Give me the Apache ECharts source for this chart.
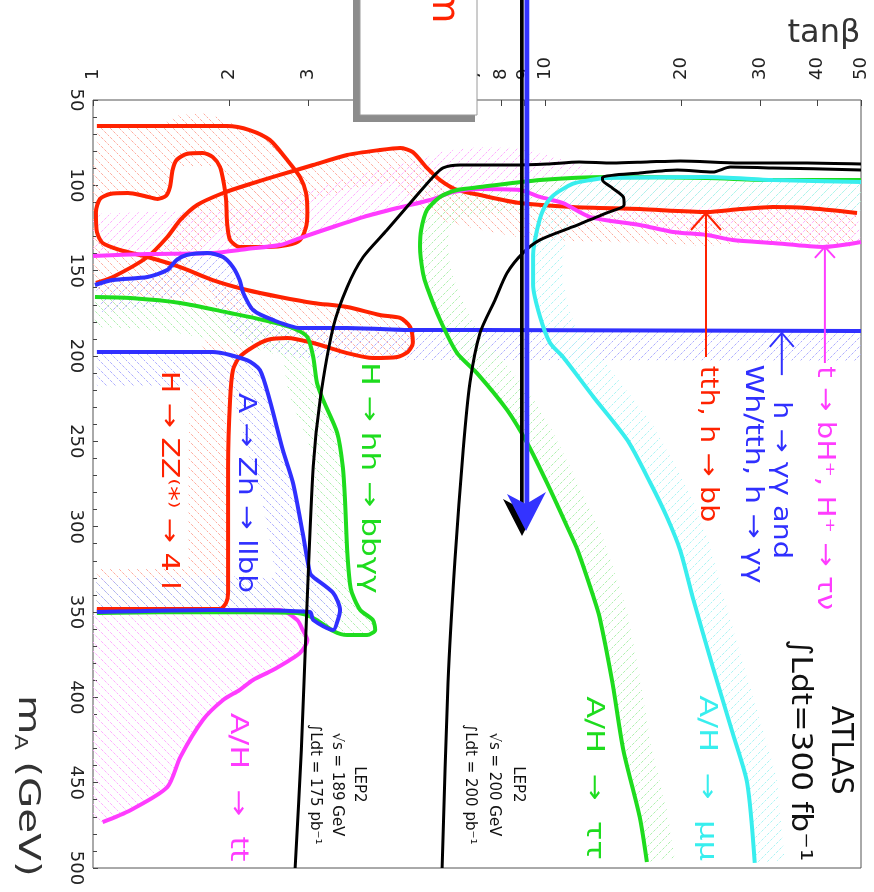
<!DOCTYPE html>
<html>
<head>
<meta charset="utf-8">
<title>ATLAS tanβ – mA</title>
<script src="https://cdn.jsdelivr.net/npm/echarts@6.0.0/dist/echarts.min.js"></script>
<style>
  html, body { margin: 0; padding: 0; background: #fff; }
  #chart { width: 874px; height: 892px; }
</style>
</head>
<body>
<div id="chart"></div>
<script>
// top axis ticks (tanβ, log scale)
const tanbTicks = [1, 2, 3, 4, 5, 6, 7, 8, 9, 10, 20, 30, 40, 50];

// contours, points are [tanβ, mA in GeV]
const redZZ = [[1.02,65.2],[1.41,65.2],[1.98,65.2],[2.22,67.6],[2.46,73.4],[2.69,85.2],[2.87,95.1],[2.96,104.5],[2.98,116.2],[2.96,124.4],[2.87,132.0],[2.69,135.0],[2.43,136.1],[2.11,136.1],[2.01,132.0],[1.98,122.1],[1.97,108.6],[1.95,99.8],[1.91,89.3],[1.84,83.4],[1.75,81.1],[1.61,81.6],[1.53,85.2],[1.50,91.0],[1.48,101.0],[1.45,106.2],[1.39,108.0],[1.30,106.2],[1.195,104.5],[1.09,105.1],[1.036,108.0],[1.015,115.6],[1.02,127.3],[1.05,133.8],[1.147,137.9],[1.32,142.0],[1.56,147.9],[1.84,155.5],[2.19,161.3],[2.59,165.4],[3.07,168.9],[3.65,171.3],[4.31,176.0],[4.78,177.7],[5.03,183.0],[5.10,192.4],[4.97,197.7],[4.71,200.6],[4.16,201.2],[3.65,198.3],[3.07,192.4],[2.69,189.5],[2.43,190.6],[2.26,194.7],[2.11,200.6],[2.04,208.2],[2.01,225.8],[1.99,265.0],[1.99,303.7],[1.99,338.9],[1.97,344.7],[1.91,348.2],[1.34,348.2],[1.02,348.2]];
const redTth = [[1.015,157.2],[1.107,153.7],[1.32,142.0],[1.46,130.3],[1.56,120.3],[1.70,111.5],[1.94,104.5],[2.19,99.8],[2.59,93.9],[3.07,88.1],[3.65,82.2],[4.31,79.3],[4.78,78.1],[5.10,80.5],[5.48,89.8],[5.86,96.9],[6.39,102.7],[7.18,105.7],[8.80,110.4],[11.5,112.7],[16.2,113.9],[22.8,115.6],[27.0,113.9],[31.9,112.7],[38.0,113.3],[49.0,116.2]];
const magBH = [[1.0,141.4],[1.32,140.2],[1.84,139.6],[2.19,137.3],[2.59,135.0],[2.87,130.9],[3.34,125.0],[3.96,118.6],[4.71,113.3],[5.57,108.6],[6.26,103.9],[7.18,102.1],[8.80,102.7],[9.75,106.8],[10.96,110.4],[12.6,118.6],[16.2,123.2],[19.2,127.3],[22.8,129.1],[26.0,132.0],[31.9,133.8],[41.2,136.1],[50,133.2]];
const magTt = [[1.02,348.8],[2.59,348.8],[2.83,354.7],[2.91,360.5],[2.98,366.4],[2.87,374.0],[2.50,384.0],[2.26,389.8],[2.11,395.7],[1.94,401.6],[1.75,413.3],[1.56,435.0],[1.46,452.6],[1.21,466.1],[1.05,473.1]];
const greenHH = [[1.01,165.4],[1.21,166.0],[1.56,168.9],[2.01,174.8],[2.38,178.9],[2.77,183.6],[2.98,188.9],[3.07,200.6],[3.13,215.8],[3.23,225.8],[3.47,245.1],[3.57,265.0],[3.61,284.4],[3.65,313.7],[3.70,333.0],[3.74,338.9],[3.90,348.8],[4.16,354.7],[4.21,360.5],[4.04,363.5],[3.65,363.5],[3.40,361.1],[3.07,353.5],[2.83,350.6],[1.84,350.0],[1.02,350.6]];
const greenTT = [[50,96.9],[31.9,96.9],[22.8,95.7],[13.7,95.1],[9.75,96.9],[7.18,101.0],[6.39,102.7],[5.86,106.8],[5.48,114.5],[5.32,126.2],[5.29,136.1],[5.37,151.4],[5.48,159.6],[5.86,178.9],[6.39,198.3],[7.07,210.0],[8.24,231.6],[9.13,251.0],[10.1,274.4],[11.2,300.2],[11.8,313.7],[12.8,341.2],[13.2,352.9],[14.1,391.6],[14.9,430.9],[16.2,470.2],[16.8,496.5]];
const cyanMM = [[50,98.0],[31.9,96.9],[22.8,95.1],[13.7,95.7],[12.6,96.9],[11.5,99.2],[10.4,106.2],[9.90,114.5],[9.60,126.2],[9.41,140.8],[9.41,158.4],[9.75,177.1],[10.26,192.4],[10.96,200.6],[12.8,224.0],[15.2,249.2],[17.1,274.4],[18.6,294.3],[19.9,313.7],[21.3,343.0],[23.5,382.2],[26.0,420.9],[28.0,450.2],[29.1,497.0]];
const blueZh = [[1.02,197.7],[1.84,197.7],[2.19,202.4],[2.34,208.2],[2.46,225.8],[2.63,255.1],[2.77,274.4],[2.91,303.7],[3.02,327.2],[3.07,329.5],[3.40,338.9],[3.52,348.8],[3.48,354.7],[3.40,360.5],[3.07,354.7],[3.02,350.0],[1.84,348.8],[1.02,350.0]];
const blueGG = [[1.01,158.4],[1.107,155.5],[1.32,153.7],[1.46,149.6],[1.53,143.8],[1.61,140.8],[1.79,139.6],[1.94,142.0],[2.04,147.9],[2.11,155.5],[2.15,163.1],[2.26,173.1],[2.50,178.9],[2.87,183.6],[3.65,183.6],[5.10,184.8],[7.18,184.8],[50,185.4]];
const lep189 = [[2.80,500],[2.89,430.9],[2.97,350.0],[3.07,265.0],[3.18,225.8],[3.40,183.0],[3.65,159.6],[3.96,142.0],[4.47,126.2],[5.10,108.6],[5.65,95.1],[5.95,89.8],[6.49,88.1],[7.18,88.1],[8.50,88.1],[10.1,87.5],[11.9,86.3],[14.1,86.9],[16.8,86.3],[19.9,85.7],[27.0,86.9],[38.0,86.9],[50,87.5]];
const lep200 = [[5.92,500],[6.10,391.6],[6.32,319.5],[6.59,255.1],[6.82,215.8],[7.18,186.5],[7.75,167.2],[8.24,151.4],[8.94,139.6],[9.75,132.0],[11.5,124.4],[13.7,116.2],[14.96,111.5],[14.9,106.8],[14.1,101.6],[13.4,96.9],[13.4,95.2],[16.2,92.8],[19.6,91.0],[23.5,92.2],[25.7,89.3],[31.9,89.8],[50,91.0]];

// annotation arrows, [tanβ, mA] from tail to tip
const tthArrow = [[22.7, 200.6], [22.7, 116.2]];
const bHArrow = [[41.6, 204.1], [41.6, 136.1]];
const ggArrow = [[33.4, 211.2], [33.4, 186.5]];

const RED = '#ff2200', MAG = '#ff3cff', GRN = '#1edc1e', BLU = '#3030ff', CYN = '#38eeee', INK = '#111';

// sparse diagonal hatch for the excluded sides of the contours
function hatch(color, dir) {
  const s = 9;
  const c = document.createElement('canvas');
  c.width = s; c.height = s;
  const g = c.getContext('2d');
  g.strokeStyle = color;
  g.lineWidth = 1;
  g.setLineDash([3, 1.5]);
  g.beginPath();
  if (dir > 0) {
    g.moveTo(-1, s + 1); g.lineTo(s + 1, -1);
  } else {
    g.moveTo(-1, -1); g.lineTo(s + 1, s + 1);
  }
  g.stroke();
  return { image: c, repeat: 'repeat' };
}

const contours = [
  { data: magTt,   color: MAG, width: 4, closed: true, hatch: hatch('#ffaaff', -1) },
  { data: redZZ,   color: RED, width: 4, band: 40, side: -1, hatch: hatch('#ffaa9c', -1) },
  { data: redTth,  color: RED, width: 4, band: 34, side: -1, hatch: hatch('#ffaa9c', -1) },
  { data: magBH,   color: MAG, width: 4, band: 42, side: 1,  hatch: hatch('#ffaaff', 1) },
  { data: greenHH, color: GRN, width: 4, band: 30, side: -1, hatch: hatch('#acf0ac', -1) },
  { data: blueZh,  color: BLU, width: 4, band: 34, side: -1, hatch: hatch('#acacff', -1) },
  { data: blueGG,  color: BLU, width: 4, band: 30, side: -1, hatch: hatch('#acacff', 1) },
  { data: greenTT, color: GRN, width: 4, band: 28, side: 1,  hatch: hatch('#acf0ac', 1) },
  { data: cyanMM,  color: CYN, width: 4, band: 30, side: 1,  hatch: hatch('#a8f4f4', 1) },
  { data: lep189,  color: '#000', width: 3 },
  { data: lep200,  color: '#000', width: 3 }
];

const arrows = [
  { path: tthArrow, color: RED, head: [15, 17] },
  { path: bHArrow,  color: MAG, head: [10, 11] },
  { path: ggArrow,  color: BLU, head: [12, 14] }
];

const notes = [
  { at: [1.47, 272.7], text: 'H → ZZ⁽*⁾ → 4 l', color: RED, size: 24, sx: 1.25 },
  { at: [2.17, 280.3], text: 'A → Zh → llbb', color: BLU, size: 24, sx: 1.23 },
  { at: [4.06, 271.5], text: 'H → hh → bbγγ', color: GRN, size: 24, sx: 1.3 },
  { at: [22.8, 251.6], text: 'tth, h → bb', color: RED, size: 24, sx: 1.2 },
  { at: [33.1, 272.7], text: 'h → γγ and', color: BLU, size: 24, sx: 1.2 },
  { at: [28.7, 269.2], text: 'Wh/tth, h → γγ', color: BLU, size: 24, sx: 1.25 },
  { at: [41.4, 277.4], text: 't → bH⁺, H⁺ → τν', color: MAG, size: 24, sx: 1.22 },
  { at: [44.9, 431.0], text: 'ATLAS', color: INK, size: 30, sx: 0.95 },
  { at: [36.6, 431.0], text: '∫Ldt=300 fb⁻¹', color: INK, size: 28, sx: 1.12 },
  { at: [22.7, 447.3], text: 'A/H  →  μμ', color: CYN, size: 24, sx: 1.34 },
  { at: [12.8, 447.3], text: 'A/H  →  ττ', color: GRN, size: 24, sx: 1.34 },
  { at: [2.08, 452.6], text: 'A/H  →  tt', color: MAG, size: 24, sx: 1.33 },
  { at: [3.46, 451.0], text: 'LEP2\n√s = 189 GeV\n∫Ldt = 175 pb⁻¹', color: INK, size: 15, sx: 1, lh: 22 },
  { at: [7.71, 451.0], text: 'LEP2\n√s = 200 GeV\n∫Ldt = 200 pb⁻¹', color: INK, size: 15, sx: 1, lh: 24 }
];

// offset a pixel polyline sideways to make the hatched band
function offsetPts(px, w) {
  const out = [];
  for (let i = 0; i < px.length; i++) {
    const a = px[Math.max(i - 1, 0)], b = px[Math.min(i + 1, px.length - 1)];
    const dx = b[0] - a[0], dy = b[1] - a[1];
    const len = Math.hypot(dx, dy) || 1;
    out.push([px[i][0] + w * dy / len, px[i][1] - w * dx / len]);
  }
  return out;
}

const chart = echarts.init(document.getElementById('chart'));

const bandSeries = {
  type: 'custom',
  coordinateSystem: 'cartesian2d',
  silent: true,
  clip: true,
  z: 1,
  data: [[1, 50]],
  renderItem: function (params, api) {
    const cs = params.coordSys;
    const kids = [];
    contours.forEach(function (c) {
      if (!c.hatch) return;
      const px = c.data.map(function (p) { return api.coord(p); });
      let poly;
      if (c.closed) {
        poly = px.concat([[cs.x, px[px.length - 1][1]], [cs.x, px[0][1]]]);
      } else {
        poly = px.concat(offsetPts(px, c.band * c.side).reverse());
      }
      kids.push({ type: 'polygon', shape: { points: poly }, style: { fill: c.hatch, stroke: null } });
    });
    return {
      type: 'group',
      children: kids,
      clipPath: { type: 'rect', shape: { x: cs.x, y: cs.y, width: cs.width, height: cs.height } }
    };
  }
};

const noteSeries = {
  type: 'custom',
  coordinateSystem: 'cartesian2d',
  silent: true,
  z: 5,
  data: [[1, 50]],
  renderItem: function (params, api) {
    const kids = [];
    arrows.forEach(function (a) {
      const p0 = api.coord(a.path[0]), p1 = api.coord(a.path[1]);
      const dx = p1[0] - p0[0], dy = p1[1] - p0[1], L = Math.hypot(dx, dy);
      const ux = dx / L, uy = dy / L, hw = a.head[0], hl = a.head[1];
      kids.push({ type: 'line', shape: { x1: p0[0], y1: p0[1], x2: p1[0], y2: p1[1] },
        style: { stroke: a.color, lineWidth: 2 } });
      kids.push({ type: 'polyline', shape: { points: [
          [p1[0] - ux * hl - uy * hw, p1[1] - uy * hl + ux * hw],
          [p1[0], p1[1]],
          [p1[0] - ux * hl + uy * hw, p1[1] - uy * hl - ux * hw]] },
        style: { stroke: a.color, lineWidth: 2, fill: 'none' } });
    });
    notes.forEach(function (n) {
      const p = api.coord(n.at);
      kids.push({ type: 'text', x: p[0], y: p[1], rotation: -Math.PI / 2, scaleX: n.sx,
        style: { text: n.text, fill: n.color, font: n.size + 'px "DejaVu Sans"',
          align: 'center', verticalAlign: 'middle', lineHeight: n.lh || Math.round(n.size * 1.2) } });
    });
    return { type: 'group', children: kids };
  }
};

const lineSeries = contours.map(function (c) {
  return {
    type: 'line',
    data: c.data,
    showSymbol: false,
    symbol: 'none',
    smooth: 0.25,
    silent: true,
    z: 3,
    lineStyle: { color: c.color, width: c.width }
  };
});

chart.setOption({
  animation: false,
  backgroundColor: '#fff',
  grid: {
    left: 93, top: 100, width: 768, height: 768,
    show: true, borderColor: '#555', borderWidth: 1,
    containLabel: false, outerBoundsMode: 'none'
  },
  xAxis: {
    type: 'log', logBase: 10, min: 1, max: 50, position: 'top',
    axisLine: { show: false },
    axisTick: { inside: true, length: 6, customValues: tanbTicks, lineStyle: { color: '#444' } },
    axisLabel: { customValues: tanbTicks, rotate: -90, margin: 20, fontSize: 18,
      fontFamily: 'DejaVu Sans', color: '#222' },
    splitLine: { show: false },
    minorTick: { show: false }
  },
  yAxis: {
    type: 'value', min: 50, max: 500, interval: 50, inverse: true,
    axisLine: { show: false },
    axisTick: { inside: true, length: 5, lineStyle: { color: '#444' } },
    minorTick: { show: true, splitNumber: 5, length: 4, lineStyle: { color: '#444' } },
    axisLabel: { rotate: -90, margin: 8, fontSize: 18, fontFamily: 'DejaVu Sans', color: '#222' },
    splitLine: { show: false }
  },
  series: [bandSeries].concat(lineSeries, [noteSeries]),
  graphic: [
    { type: 'text', x: 824, y: 34, z: 50,
      style: { text: 'tanβ', fill: '#333', font: '32px "DejaVu Sans"', align: 'center', verticalAlign: 'middle' } },
    { type: 'group', x: 27, y: 695, rotation: -Math.PI / 2, scaleX: 1.35, z: 50, children: [
      { type: 'text', x: 0, y: 0, style: { text: 'm', fill: '#333', font: '30px "DejaVu Sans"', align: 'left', verticalAlign: 'middle' } },
      { type: 'text', x: 29, y: 8, style: { text: 'A', fill: '#333', font: '17px "DejaVu Sans"', align: 'left', verticalAlign: 'middle' } },
      { type: 'text', x: 49, y: 0, style: { text: '(GeV)', fill: '#333', font: '30px "DejaVu Sans"', align: 'left', verticalAlign: 'middle' } }
    ] },
    // pasted box and pointer sitting over the figure
    { type: 'rect', z: 100, shape: { x: 353, y: -10, width: 122, height: 132 }, style: { fill: '#8c8c8c' } },
    { type: 'rect', z: 101, shape: { x: 360, y: -10, width: 117, height: 125 }, style: { fill: '#fff', stroke: '#9a9a9a', lineWidth: 1 } },
    { type: 'text', z: 102, x: 443, y: 5, rotation: -Math.PI / 2,
      style: { text: 'm', fill: '#ff2200', font: '38px "DejaVu Sans"', align: 'center', verticalAlign: 'middle' } },
    { type: 'rect', z: 100, shape: { x: 520, y: 0, width: 3.7, height: 512 }, style: { fill: '#000' } },
    { type: 'rect', z: 101, shape: { x: 524.5, y: 0, width: 4.8, height: 506 }, style: { fill: '#3333ff' } },
    { type: 'polygon', z: 100, shape: { points: [[503, 499], [522, 536], [542, 497], [522, 509]] }, style: { fill: '#000' } },
    { type: 'polygon', z: 101, shape: { points: [[507, 494], [526, 531], [546, 492], [526, 504]] }, style: { fill: '#3333ff' } }
  ]
});
</script>
</body>
</html>
